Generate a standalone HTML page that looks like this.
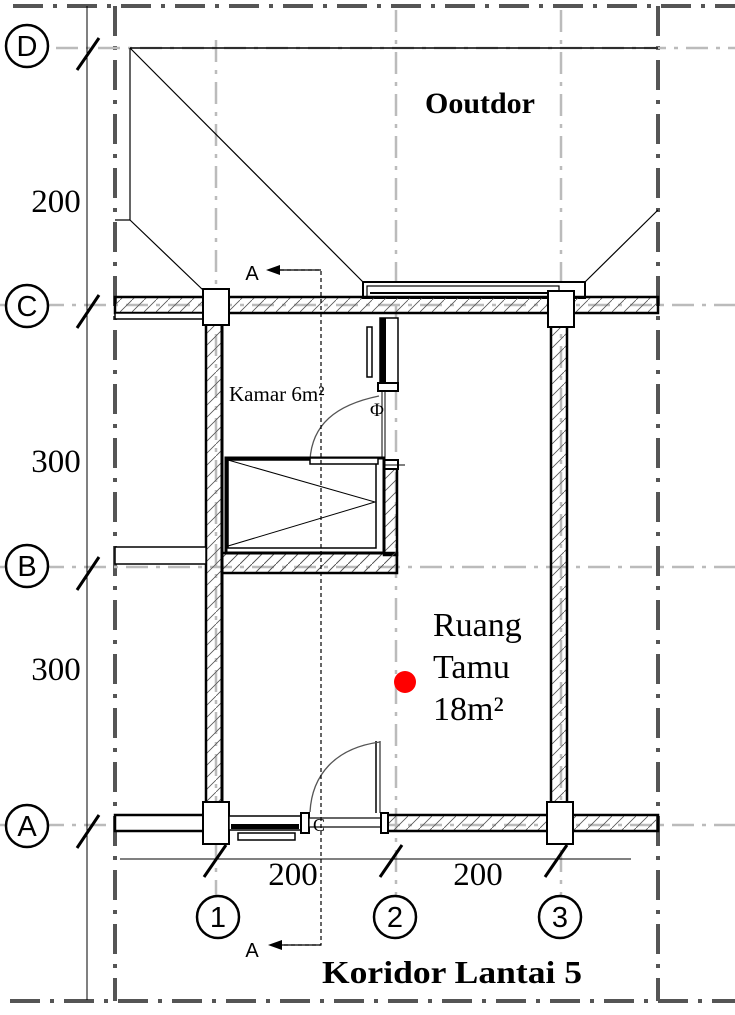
<!DOCTYPE html>
<html><head><meta charset="utf-8"><style>
html,body{margin:0;padding:0;background:#fff;}
svg{display:block;}
text{font-family:"Liberation Serif",serif;}
</style></head><body>
<svg width="735" height="1015" viewBox="0 0 735 1015" xmlns="http://www.w3.org/2000/svg">
<defs>
<pattern id="h" width="12" height="12" patternUnits="userSpaceOnUse">
<line x1="0" y1="12" x2="12" y2="0" stroke="#555" stroke-width="0.8"/>
</pattern>
</defs>
<g stroke="#555" stroke-width="4" fill="none" stroke-dasharray="30,10,4,10">
<line x1="13" y1="6" x2="735" y2="6"/>
<line x1="10" y1="1001" x2="735" y2="1001"/>
<line x1="115" y1="6" x2="115" y2="1001"/>
<line x1="658" y1="6" x2="658" y2="1001"/>
</g>
<g stroke="#bbb" stroke-width="2.5" fill="none" stroke-dasharray="22,8,4,8">
<line x1="14" y1="48" x2="735" y2="48"/>
<line x1="0" y1="305" x2="735" y2="305"/>
<line x1="0" y1="567" x2="735" y2="567"/>
<line x1="0" y1="825" x2="735" y2="825"/>
<line x1="216" y1="40" x2="216" y2="895"/>
<line x1="396" y1="10" x2="396" y2="895"/>
<line x1="561" y1="10" x2="561" y2="895"/>
</g>
<line x1="87" y1="6" x2="87" y2="1000" stroke="#000" stroke-width="1"/>
<g stroke="#000" stroke-width="3">
<line x1="77" y1="70" x2="99" y2="38"/>
<line x1="77" y1="328" x2="99" y2="295"/>
<line x1="77" y1="590" x2="99" y2="557"/>
<line x1="77" y1="848" x2="99" y2="815"/>
<line x1="204" y1="877" x2="226" y2="845"/>
<line x1="380" y1="877" x2="402" y2="845"/>
<line x1="545" y1="877" x2="567" y2="845"/>
</g>
<line x1="120" y1="859" x2="631" y2="859" stroke="#000" stroke-width="1"/>
<g fill="#fff" stroke="#000" stroke-width="2.5">
<circle cx="27" cy="46" r="21"/><circle cx="27" cy="306" r="21"/>
<circle cx="27" cy="566" r="21"/><circle cx="27" cy="826" r="21"/>
<circle cx="218" cy="917" r="21"/><circle cx="395" cy="917" r="21"/>
<circle cx="560" cy="917" r="21"/>
</g>
<g font-size="29" text-anchor="middle">
<text x="27" y="56" style="font-family:'Liberation Sans',sans-serif">D</text>
<text x="27" y="316" style="font-family:'Liberation Sans',sans-serif">C</text>
<text x="27" y="576" style="font-family:'Liberation Sans',sans-serif">B</text>
<text x="27" y="836" style="font-family:'Liberation Sans',sans-serif">A</text>
<text x="218" y="927" style="font-family:'Liberation Sans',sans-serif">1</text>
<text x="395" y="927" style="font-family:'Liberation Sans',sans-serif">2</text>
<text x="560" y="927" style="font-family:'Liberation Sans',sans-serif">3</text>
</g>
<g font-size="33" text-anchor="middle">
<text x="56" y="212">200</text>
<text x="56" y="472">300</text>
<text x="56" y="680">300</text>
<text x="293" y="885">200</text>
<text x="478" y="885">200</text>
</g>
<g stroke="#000" stroke-width="1.2" fill="none">
<line x1="130" y1="48" x2="658" y2="48" stroke-width="1.5"/>
<polyline points="115,220 130,220 130,48"/>
<line x1="130" y1="48" x2="363" y2="282"/>
<line x1="130" y1="220" x2="203" y2="290"/>
<line x1="658" y1="210" x2="585" y2="282"/>
</g>
<rect x="363" y="282" width="222" height="16" fill="#fff" stroke="#000" stroke-width="2"/>
<rect x="367" y="286" width="192" height="11" fill="none" stroke="#000" stroke-width="1.2"/>
<line x1="370" y1="293" x2="559" y2="293" stroke="#000" stroke-width="2"/>
<g stroke="#000" stroke-width="2.5">
<rect x="115" y="297" width="543" height="16" fill="url(#h)"/>
<rect x="206" y="313" width="16" height="505" fill="url(#h)"/>
<rect x="551" y="313" width="16" height="505" fill="url(#h)"/>
<rect x="387" y="815" width="271" height="16" fill="url(#h)"/>
<rect x="115" y="815" width="92" height="16" fill="#fff"/>
<rect x="222" y="553" width="175" height="20" fill="url(#h)"/>
<rect x="384" y="465" width="13" height="90" fill="url(#h)"/>
</g>
<rect x="223" y="554" width="173" height="18" fill="url(#h)" stroke="none"/>
<line x1="222" y1="314" x2="222" y2="818" stroke="#000" stroke-width="3"/>
<rect x="115" y="313" width="91" height="6" fill="#fff" stroke="#000" stroke-width="1.5"/>
<rect x="115" y="547" width="91" height="17" fill="#fff" stroke="#000" stroke-width="1.5"/>
<g fill="#fff" stroke="#000" stroke-width="2">
<rect x="203" y="289" width="26" height="36"/>
<rect x="548" y="291" width="26" height="36"/>
<rect x="203" y="802" width="26" height="42"/>
<rect x="547" y="802" width="26" height="42"/>
</g>
<rect x="229" y="816" width="72" height="14" fill="#fff" stroke="#000" stroke-width="1.5"/>
<rect x="231" y="824" width="68" height="5" fill="#000"/>
<rect x="238" y="833" width="57" height="7" fill="#fff" stroke="#000" stroke-width="1.5"/>
<rect x="301" y="813" width="8" height="20" fill="#fff" stroke="#000" stroke-width="2"/>
<rect x="309" y="818" width="78" height="9" fill="#fff" stroke="#000" stroke-width="1.2"/>
<rect x="381" y="813" width="7" height="20" fill="#fff" stroke="#000" stroke-width="2"/>
<line x1="376" y1="741" x2="376" y2="813" stroke="#000" stroke-width="1.5"/>
<line x1="380" y1="741" x2="380" y2="813" stroke="#000" stroke-width="1"/>
<path d="M310,812 C312,775 335,748 380,742" fill="none" stroke="#555" stroke-width="1.3"/>
<text x="313" y="831" font-size="18">C</text>
<rect x="380" y="318" width="18" height="67" fill="#fff" stroke="#000" stroke-width="1.5"/>
<rect x="380" y="318" width="6" height="67" fill="#000"/>
<rect x="367" y="327" width="5" height="50" fill="#fff" stroke="#000" stroke-width="1.5"/>
<rect x="378" y="383" width="20" height="8" fill="#fff" stroke="#000" stroke-width="2"/>
<line x1="382" y1="391" x2="382" y2="460" stroke="#000" stroke-width="1"/>
<line x1="385" y1="391" x2="385" y2="460" stroke="#000" stroke-width="1"/>
<text x="370" y="416" font-size="19">Φ</text>
<rect x="378" y="460" width="20" height="9" fill="#fff" stroke="#000" stroke-width="2"/>
<line x1="370" y1="465" x2="405" y2="465" stroke="#000" stroke-width="1"/>
<path d="M310,460 C312,425 335,405 379,396" fill="none" stroke="#555" stroke-width="1.3"/>
<rect x="226" y="458" width="158" height="95" fill="#fff" stroke="#000" stroke-width="3"/>
<rect x="228" y="460" width="148" height="88" fill="none" stroke="#000" stroke-width="1.5"/>
<polyline points="228,460 375,502 228,546" fill="none" stroke="#000" stroke-width="1"/>
<rect x="310" y="458" width="68" height="6" fill="#fff" stroke="#000" stroke-width="1.5"/>
<g stroke="#000" stroke-width="1.2" fill="none">
<polyline points="280,270 321,270 321,945 280,945" stroke-dasharray="4,3"/>
<line x1="280" y1="270" x2="321" y2="270"/>
<line x1="280" y1="945" x2="321" y2="945"/>
</g>
<polygon points="266,270 280,265 280,275" fill="#000"/>
<polygon points="268,945 282,940 282,950" fill="#000"/>
<text x="252" y="280" font-size="20" text-anchor="middle" style="font-family:'Liberation Sans',sans-serif">A</text>
<text x="252" y="957" font-size="20" text-anchor="middle" style="font-family:'Liberation Sans',sans-serif">A</text>
<text x="480" y="113" font-size="30" font-weight="bold" text-anchor="middle">Ooutdor</text>
<text x="229" y="401" font-size="21">Kamar 6m²</text>
<circle cx="405" cy="682" r="11" fill="#f00"/>
<text x="433" y="636" font-size="34">Ruang</text>
<text x="433" y="678" font-size="34">Tamu</text>
<text x="433" y="720" font-size="34">18m²</text>
<text x="452" y="983" font-size="32" font-weight="bold" text-anchor="middle" textLength="260" lengthAdjust="spacingAndGlyphs">Koridor Lantai 5</text>
</svg>
</body></html>
